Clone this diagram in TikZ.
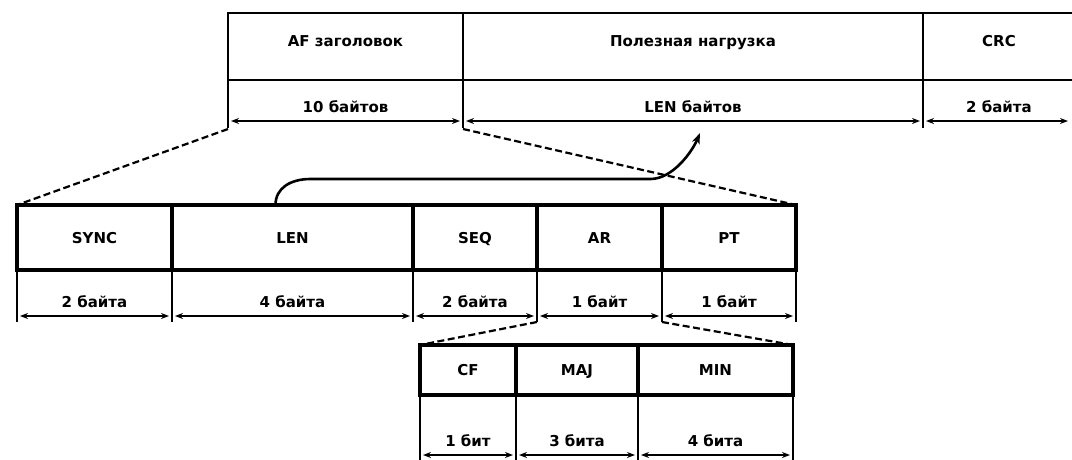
\documentclass[tikz,border=0pt]{standalone}
\usepackage{fontspec}
\setmainfont{DejaVu Sans}
\usetikzlibrary{matrix,arrows.meta}

\begin{document}
\begin{tikzpicture}[x=1pt, y=-1pt,
	font=\fontsize{15}{17}\selectfont\bfseries,
	packet/.style={matrix of nodes, anchor=north west,
		inner sep=0pt, outer sep=0pt,
		row sep=-#1/2, column sep=-#1,
		nodes in empty cells,
		nodes={inner sep=0pt, outer sep=0pt, anchor=center}},
	field/.style={draw, line width=#1},
	field/.default=4pt,
	sepline/.style={line width=#1},
	sepline/.default=2.8pt,
	dimline/.style={line width=1.4pt,
		{Stealth[length=8pt,width=6pt]}-{Stealth[length=8pt,width=6pt]}},
	zoomline/.style={line width=2.2pt, dash pattern=on 7pt off 3.5pt},
	lenarrow/.style={line width=2.6pt, -{Stealth[length=11pt,width=8pt]}}]
	
	\useasboundingbox (0,0) rectangle (1072,459);
	
	% AF packet
	\matrix (af) at (226.7,11.7) [packet=2.6pt,
	row 1/.style={nodes={field=2.6pt, text height=33.5pt, text depth=33.5pt}},
	row 2/.style={nodes={text height=32.5pt, text depth=8.5pt}},
	column 1/.style={nodes={minimum width=235pt}},
	column 2/.style={nodes={minimum width=460pt}},
	column 3/.style={nodes={minimum width=152pt}}]
	{
		AF заголовок & Полезная нагрузка & CRC \\
		10 байтов & LEN байтов & 2 байта \\
	};
	\foreach \c in {1,...,3}
	\draw[sepline=2.4pt] (af-2-\c.north west) -- ([yshift=-7pt]af-2-\c.south west);
	\foreach \c/\e in {1/3,2/3,3/7}
	\draw[dimline] ([xshift=3pt]af-2-\c.south west) -- ([xshift=-\e pt]af-2-\c.south east);
	
	% AF header
	\matrix (hdr) at (15,203) [packet=4pt,
	row 1/.style={nodes={field, text height=38.5pt, text depth=26.5pt}},
	row 2/.style={nodes={text height=37.5pt, text depth=8.5pt}},
	column 1/.style={nodes={minimum width=155pt}},
	column 2/.style={nodes={minimum width=241pt}},
	column 3/.style={nodes={minimum width=124pt}},
	column 4/.style={nodes={minimum width=125pt}},
	column 5/.style={nodes={minimum width=134pt}}]
	{
		SYNC & LEN & SEQ & AR & PT \\
		2 байта & 4 байта & 2 байта & 1 байт & 1 байт \\
	};
	\foreach \c in {1,...,5}
	\draw[sepline] (hdr-2-\c.north west) -- ([yshift=-6pt]hdr-2-\c.south west);
	\draw[sepline] (hdr-2-5.north east) -- ([yshift=-6pt]hdr-2-5.south east);
	\foreach \c in {1,...,5}
	\draw[dimline] ([xshift=3pt]hdr-2-\c.south west) -- ([xshift=-3pt]hdr-2-\c.south east);
	
	% AR byte
	\matrix (ar) at (418,343) [packet=4pt,
	row 1/.style={nodes={field, text height=30.5pt, text depth=19.5pt}},
	row 2/.style={nodes={text height=51.5pt, text depth=8.5pt}},
	column 1/.style={nodes={minimum width=96pt}},
	column 2/.style={nodes={minimum width=122pt}},
	column 3/.style={nodes={minimum width=155pt}}]
	{
		CF & MAJ & MIN \\
		1 бит & 3 бита & 4 бита \\
	};
	\foreach \c in {1,...,3}
	\draw[sepline] (ar-2-\c.north west) -- ([yshift=-6pt]ar-2-\c.south west);
	\draw[sepline] (ar-2-3.north east) -- ([yshift=-6pt]ar-2-3.south east);
	\foreach \c in {1,...,3}
	\draw[dimline] ([xshift=3pt]ar-2-\c.south west) -- ([xshift=-3pt]ar-2-\c.south east);
	
	% expansion lines
	\draw[zoomline] ([yshift=-8pt]af-2-1.south west) -- (hdr-1-1.north west);
	\draw[zoomline] ([yshift=-8pt]af-2-2.south west) -- (hdr-1-5.north east);
	\draw[zoomline] ([yshift=-6pt]hdr-2-4.south west) -- (ar-1-1.north west);
	\draw[zoomline] ([yshift=-6pt]hdr-2-5.south west) -- (ar-1-3.north east);
	
	% LEN gives the payload length
	\coordinate (lentip) at ([xshift=7pt,yshift=-12pt]af-2-2.south);
	\draw[lenarrow] ([xshift=-17pt]hdr-1-2.north) .. controls +(0,-17) and +(-20,0) .. ++(35,-26)
	-- ++(340,0) .. controls +(22,0) and +(-8,19) .. (lentip);
\end{tikzpicture}
\end{document}
